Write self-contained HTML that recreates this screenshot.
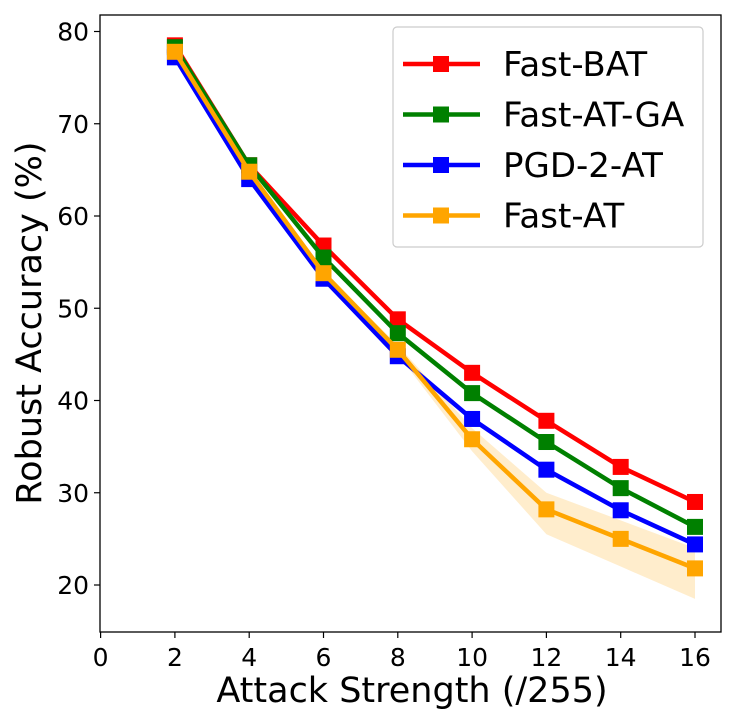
<!DOCTYPE html>
<html><head><meta charset="utf-8"><style>
body{margin:0;background:#fff}
svg{font-family:"DejaVu Sans","Liberation Sans",sans-serif}
</style></head><body>
<svg id="chart" width="750" height="720">
<rect x="100" y="15" width="621" height="617" fill="none" stroke="#000" stroke-width="1.3"/>
<g id="ticks"></g>
<g id="band"></g>
<g id="series"></g>
<text x="412" y="702" font-size="35" text-anchor="middle">Attack Strength (/255)</text>
<text transform="translate(41,323) rotate(-90)" font-size="35" text-anchor="middle">Robust Accuracy (%)</text>
<g id="legend">
<rect x="393" y="27" width="310" height="220" rx="4" fill="#fff" stroke="#ccc" stroke-width="1.2"/>
</g>
</svg>
<script>
const xs=[2,4,6,8,10,12,14,16];
const fastBAT=[78.5,65.5,56.8,48.8,43,37.8,32.8,29];
const fastATGA=[78.3,65.5,55.5,47.3,40.8,35.5,30.5,26.3];
const pgd2AT=[77.2,64,53.2,44.8,38,32.5,28.1,24.4];
const fastAT=[77.8,64.8,53.8,45.5,35.8,28.2,25,21.8];
const fastATLow=[77.5,64.5,53.5,45,34.5,25.5,22,18.5];
const fastATHigh=[78,65,54,46,37,30,27,24];
const xTicks=[0,2,4,6,8,10,12,14,16];
const yTicks=[20,30,40,50,60,70,80];
const names=["Fast-BAT","Fast-AT-GA","PGD-2-AT","Fast-AT"];
const colors=["#ff0000","#008000","#0000ff","#ffa500"];
const NS="http://www.w3.org/2000/svg";
const X=v=>100.6+v*37.15;
const Y=v=>585-(v-20)*9.225;
function mk(t,a,p){const e=document.createElementNS(NS,t);for(const k in a)e.setAttribute(k,a[k]);p.appendChild(e);return e;}
const tk=document.getElementById('ticks');
xTicks.forEach(v=>{
 const l=mk('line',{x1:X(v),x2:X(v),y1:632,y2:638,stroke:'#000','stroke-width':1.2},tk);
 
 
 const t=mk('text',{x:X(v),y:666,'font-size':25,'text-anchor':'middle'},tk);t.textContent=v;
 
 
});
yTicks.forEach(v=>{
 const l=mk('line',{x1:94,x2:100,y1:Y(v),y2:Y(v),stroke:'#000','stroke-width':1.2},tk);
 
 
 const t=mk('text',{x:89,y:Y(v)+9,'font-size':25,'text-anchor':'end'},tk);t.textContent=v;
 
 
});
const bd=document.getElementById('band');
let d=xs.map((x,i)=>(i?'L':'M')+X(x)+','+Y(fastATHigh[i])).join('')+xs.slice().reverse().map((x,j)=>'L'+X(x)+','+Y(fastATLow[xs.length-1-j])).join('')+'Z';
const b=mk('path',{d:d,fill:'#ffa500','fill-opacity':0.2},bd);


const sg=document.getElementById('series');
[fastBAT,fastATGA,pgd2AT,fastAT].forEach((s,k)=>{
 const g=mk('g',{},sg);
 
 
 mk('polyline',{points:xs.map((x,i)=>X(x)+','+Y(s[i])).join(' '),fill:'none',stroke:colors[k],'stroke-width':4.5},g);
 xs.forEach((x,i)=>{
  const r=mk('rect',{x:X(x)-8,y:Y(s[i])-8,width:16,height:16,fill:colors[k]},g);
  
  
 });
});
const lg=document.getElementById('legend');
names.forEach((n,k)=>{
 const yy=64+k*50.5;
 const g=mk('g',{},lg);
 
 
 mk('line',{x1:403,x2:480,y1:yy,y2:yy,stroke:colors[k],'stroke-width':4.5},g);
 mk('rect',{x:433,y:yy-8,width:16,height:16,fill:colors[k]},g);
 const t=mk('text',{x:503,y:yy+12,'font-size':34},g);t.textContent=n;
});
</script>
</body></html>
